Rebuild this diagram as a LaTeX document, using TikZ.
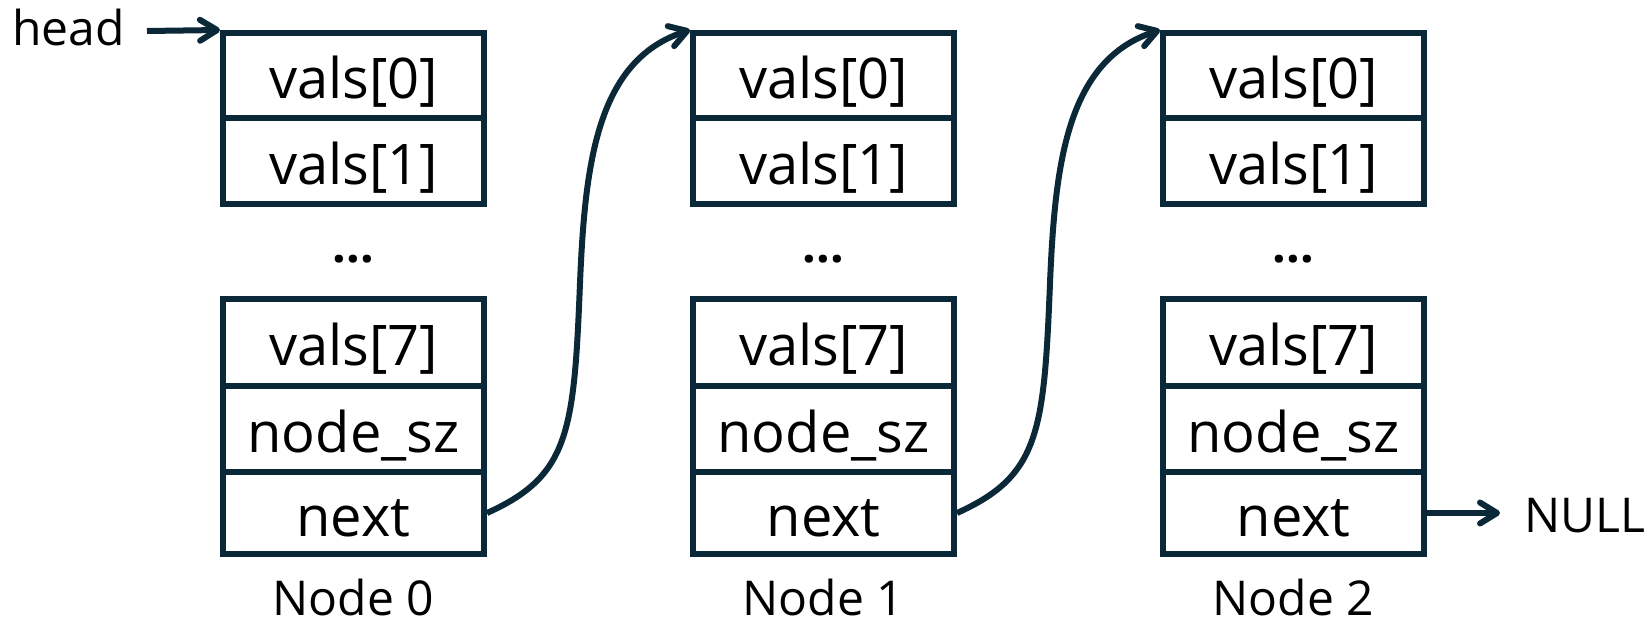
\documentclass[tikz,border=0pt]{standalone}
\usepackage{fontspec}
\setmainfont{Open Sans}
\usetikzlibrary{arrows.meta}
\definecolor{ink}{HTML}{0A2838}
\begin{document}
\begin{tikzpicture}[x=1pt,y=-1pt,
  cell/.style={draw=ink, line width=6pt, minimum width=261pt, inner sep=0pt,
    text height=50pt, text depth=4pt, font=\fontsize{56}{64}\selectfont},
  lbl/.style={font=\fontsize{48}{56}\selectfont, inner sep=0pt},
  dotsty/.style={font=\fontsize{48}{54}\selectfont\bfseries, inner sep=0pt},
  arr/.style={draw=ink, line width=6pt,
    -{Straight Barb[length=17pt,width=21pt,line cap=round,line join=round]}}]
\useasboundingbox (0,0) rectangle (1648,623);
\foreach \i in {0,1,2}{
  \pgfmathsetmacro\cx{353.5+470*\i}
  \node[cell, minimum height=85pt] (n\i-v0) at (\cx,75.5) {vals[0]};
  \node[cell, minimum height=86pt] (n\i-v1) at (\cx,161) {vals[1]};
  \node[dotsty, anchor=base] (n\i-dots) at (\cx,262) {...};
  \node[cell, minimum height=87pt] (n\i-v7) at (\cx,342.5) {vals[7]};
  \node[cell, minimum height=86pt] (n\i-sz) at (\cx,429) {node\_sz};
  \node[cell, minimum height=82pt] (n\i-nx) at (\cx,513) {next};
  \node[lbl, anchor=base] (lab\i) at (\cx,615) {Node \i};
}
\node[lbl, anchor=east, inner xsep=22pt, text height=33pt, text depth=3pt] (head) at (147,31) {head};
\draw[arr] (head.east) -- (n0-v0.north west);
\foreach \i/\j in {0/1,1/2}{
  \pgfmathsetmacro\ax{569+470*\i}
  \pgfmathsetmacro\bx{574+470*\i}
  \pgfmathsetmacro\mx{580+470*\i}
  \pgfmathsetmacro\cxx{585+470*\i}
  \pgfmathsetmacro\dx{597+470*\i}
  \draw[arr] (n\i-nx.east) .. controls (\ax,476) and (\bx,433) .. (\mx,283)
     .. controls (\cxx,163) and (\dx,60) .. (n\j-v0.north west);
}
\node[lbl, anchor=west, inner xsep=24pt, text height=40pt, text depth=2pt] (null) at (1500,513) {NULL};
\draw[arr] (n2-nx.east) -- (null.west);
\end{tikzpicture}
\end{document}
